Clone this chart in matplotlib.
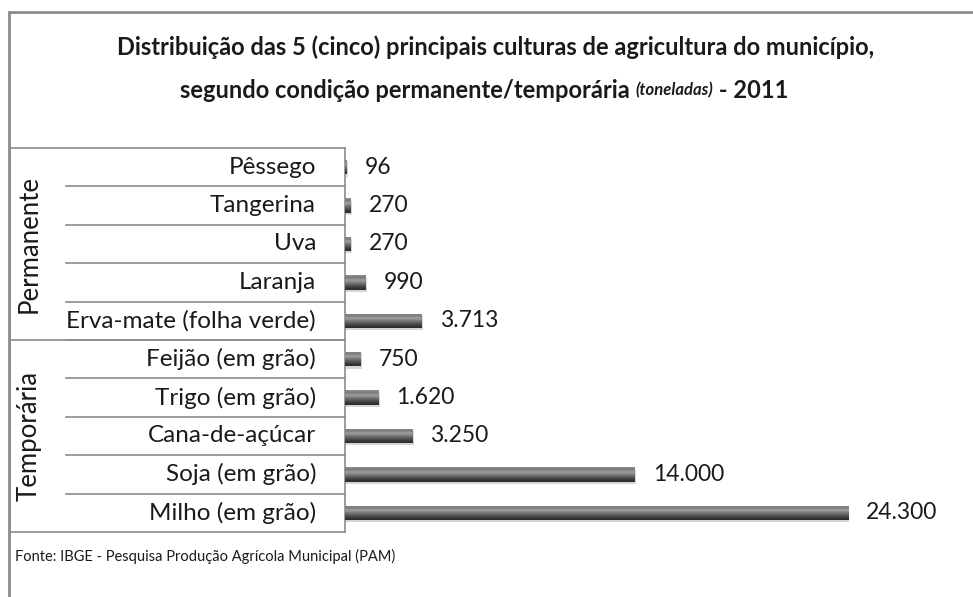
import numpy as np
import matplotlib
matplotlib.use("Agg")
import matplotlib.pyplot as plt
from matplotlib.colors import LinearSegmentedColormap
from matplotlib.patches import Rectangle
from matplotlib.transforms import blended_transform_factory, offset_copy

plt.rcParams['font.family'] = ['Lato', 'DejaVu Sans']

# data (top to bottom as in the chart)
culturas = ["Pêssego", "Tangerina", "Uva", "Laranja", "Erva-mate (folha verde)",
            "Feijão (em grão)", "Trigo (em grão)", "Cana-de-açúcar", "Soja (em grão)",
            "Milho (em grão)"]
toneladas = [96, 270, 270, 990, 3713, 750, 1620, 3250, 14000, 24300]
grupos = ["Permanente", "Temporária"]
tamanho_grupo = [5, 5]
titulo1 = "Distribuição das 5 (cinco) principais culturas de agricultura do município,"
titulo2 = ["segundo condição permanente/temporária ", "(toneladas)", " - 2011"]
fonte = "Fonte: IBGE - Pesquisa Produção Agrícola Municipal (PAM)"

W, H = 973, 597
fig = plt.figure(figsize=(W / 100, H / 100), dpi=100)
fig.patch.set_facecolor('white')

# outer frame (top and left visible)
fig.add_artist(Rectangle((9 / W, -0.05), 1.1, 1 - 12 / H + 0.05, transform=fig.transFigure,
                         fill=False, edgecolor='#8c8c8c', linewidth=2))

ax = fig.add_axes([345 / W, 1 - 532 / H, 621 / W, 384 / H])
n = len(culturas)
y = np.arange(n)[::-1]
ax.set_ylim(-0.5, n - 0.5)
ax.set_xlim(0, 30000)
for s in ['top', 'right', 'bottom']:
    ax.spines[s].set_visible(False)
ax.spines['left'].set_color('#8c8c8c')
ax.spines['left'].set_linewidth(1.2)
ax.set_xticks([])
ax.set_yticks([])

# bars with a cylinder-like gray gradient
cmap = LinearSegmentedColormap.from_list('cil', ['#2a2a2a', '#3c3c3c', '#5a5a5a', '#7c7c7c',
                                                 '#a0a0a0', '#7a7a7a', '#8e8e8e'])
grad = np.linspace(0, 1, 64).reshape(-1, 1)
bars = ax.barh(y, toneladas, height=0.37, color='#555555', edgecolor='none', zorder=2)
for b in bars:
    x0, y0, w, h = b.get_x(), b.get_y(), b.get_width(), b.get_height()
    sh = Rectangle((x0 + 60, y0 - 0.06), w, h, color='#d6d6d6', zorder=1, linewidth=0)
    ax.add_patch(sh)
    im = ax.imshow(grad, cmap=cmap, aspect='auto', origin='lower',
                   extent=(x0, x0 + w, y0, y0 + h), zorder=3)
    im.set_clip_path(b)

lab_tr = offset_copy(ax.transData, fig=fig, x=18 / 100 * 72, y=0, units='points')
for yi, v in zip(y, toneladas):
    ax.text(v, yi, f"{v:,}".replace(",", "."), transform=lab_tr, va='center', ha='left',
            fontsize=16.5, color='#1a1a1a')

# category table on the left
bt = blended_transform_factory(ax.transAxes, ax.transData)
x_out = (10 - 345) / 621
x_in = (66 - 345) / 621
x_lab = (316 - 345) / 621
line_kw = dict(color='#8c8c8c', linewidth=1.2, transform=bt, clip_on=False)
for yi, nome in zip(y, culturas):
    ax.text(x_lab, yi, nome, transform=bt, ha='right', va='center', fontsize=17.5,
            color='#1a1a1a')
# row separators
for k in range(1, n):
    ax.plot([x_in, 0], [n - k - 0.5, n - k - 0.5], **line_kw)
# group separators and frame
limites = np.concatenate([[0], np.cumsum(tamanho_grupo)])
for b_ in limites:
    ax.plot([x_out, 0], [n - b_ - 0.5, n - b_ - 0.5], **line_kw)
ax.plot([x_out, x_out], [-0.5, n - 0.5], **line_kw)
for g, i0, i1 in zip(grupos, limites[:-1], limites[1:]):
    yc = n - (i0 + i1) / 2 - 0.5
    ax.text((29 - 345) / 621, yc, g, transform=bt, rotation=90, ha='center', va='center',
            fontsize=18.5, color='#1a1a1a')

# title
fig.text(496 / W, 1 - 47 / H, titulo1, ha='center', va='center', fontsize=17, fontweight='bold',
         color='#1a1a1a')
fig.canvas.draw()
r = fig.canvas.get_renderer()
pecas = [fig.text(0, 0, titulo2[0], fontsize=17, fontweight='bold'),
         fig.text(0, 0, titulo2[1], fontsize=12, fontweight='bold', style='italic'),
         fig.text(0, 0, titulo2[2], fontsize=17, fontweight='bold')]
larg = [p.get_window_extent(r).width for p in pecas]
x = 484 - sum(larg) / 2
for p, wd in zip(pecas, larg):
    p.set_position((x / W, 1 - 90 / H))
    p.set_va('center')
    p.set_color('#1a1a1a')
    x += wd

fig.text(15 / W, 1 - 556 / H, fonte, fontsize=10.5, va='center', ha='left', color='#1a1a1a')

fig.savefig('out.png', dpi=100)
